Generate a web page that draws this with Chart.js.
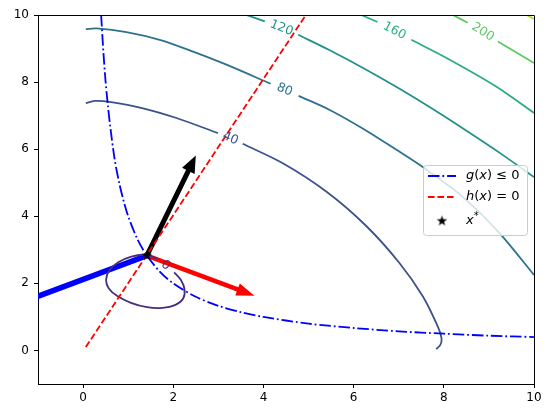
<!DOCTYPE html>
<html>
<head>
<meta charset="utf-8">
<script src="https://cdn.jsdelivr.net/npm/chart.js@4.4.1/dist/chart.umd.min.js"></script>
<style>
    body { margin: 0; background: #fff; }
    #chart { display: block; }
</style>
</head>
<body>
<canvas id="chart" width="552" height="418"></canvas>
<script>
// tick labels
const xTicks = [0, 2, 4, 6, 8, 10];
const yTicks = [0, 2, 4, 6, 8, 10];

// contour lines of f ("a" ends before the label, "b" starts after it)
const contour0 = [[2.02, 2.33], [2.17, 2.10], [2.25, 1.82], [2.22, 1.55], [2.05, 1.36], [1.76, 1.27],
    [1.42, 1.29], [1.06, 1.42], [0.76, 1.62], [0.57, 1.85], [0.51, 2.10], [0.58, 2.38],
    [0.78, 2.63], [1.07, 2.80], [1.38, 2.85], [1.64, 2.74]];
const contour40a = [[0.06, 7.37], [0.26, 7.44], [0.59, 7.41], [1.33, 7.22], [2.07, 6.93], [2.99, 6.48]];
const contour40b = [[3.54, 6.16], [4.43, 5.58], [5.40, 4.73], [6.28, 3.71], [7.02, 2.60], [7.54, 1.60],
    [7.87, 0.70], [7.95, 0.36], [7.92, 0.16], [7.83, 0.04]];
const contour80a = [[0.06, 9.58], [0.30, 9.60], [0.96, 9.49], [1.70, 9.26], [2.44, 8.91], [3.18, 8.52], [4.16, 7.95]];
const contour80b = [[4.78, 7.59], [5.47, 7.17], [6.21, 6.61], [6.95, 5.98], [7.54, 5.46], [8.42, 4.58],
    [9.24, 3.49], [10, 2.25]];
const contour120a = [[3.62, 10], [4.03, 9.81]];
const contour120b = [[4.77, 9.41], [5.47, 8.95], [6.24, 8.40], [7.02, 7.80], [7.80, 7.16], [8.57, 6.49],
    [9.24, 5.89], [10, 5.17]];
const contour160a = [[6.17, 10], [6.53, 9.79]];
const contour160b = [[7.28, 9.26], [8.06, 8.72], [9.16, 7.87], [10, 7.08]];
const contour200a = [[8.20, 10], [8.53, 9.77]];
const contour200b = [[9.20, 9.21], [10, 8.57]];
const contour240 = [[9.84, 10], [10, 9.88]];

// constraint curves
const gCurve = [[0.40, 10], [0.45, 8.9], [0.50, 8.0], [0.55, 7.3], [0.60, 6.7], [0.70, 5.7], [0.80, 5.0],
    [0.90, 4.45], [1.0, 4.0], [1.2, 3.33], [1.4, 2.86], [1.7, 2.35], [2.0, 2.0], [2.5, 1.6], [3.0, 1.33],
    [3.5, 1.14], [4.0, 1.0], [5.0, 0.8], [6.0, 0.67], [7.0, 0.57], [8.0, 0.5], [9.0, 0.44], [10, 0.4]];
const hLine = [[0.06, 0.10], [4.94, 10]];

// optimum and arrow tips
const xStar = [1.414, 2.828];
const gradF = [2.50, 5.81];
const gradH = [3.80, 1.63];
const gradG = [-1.41, 1.41];

const toXY = pts => pts.map(p => ({ x: p[0], y: p[1] }));

function contourSet(pts, color) {
    return {
        data: toXY(pts), showLine: true, borderColor: color, borderWidth: 1.8,
        pointRadius: 0, pointHoverRadius: 0, tension: 0.3, order: 5
    };
}

const c0 = '#472d7b', c40 = '#3b528b', c80 = '#2c728e', c120 = '#21918c',
      c160 = '#28ae80', c200 = '#5ec962', c240 = '#addc30';

const contourLabels = [
    { text: '0', from: contour0[contour0.length - 1], to: contour0[0], color: c0 },
    { text: '40', from: contour40a[contour40a.length - 1], to: contour40b[0], color: c40 },
    { text: '80', from: contour80a[contour80a.length - 1], to: contour80b[0], color: c80 },
    { text: '120', from: contour120a[contour120a.length - 1], to: contour120b[0], color: c120 },
    { text: '160', from: contour160a[contour160a.length - 1], to: contour160b[0], color: c160 },
    { text: '200', from: contour200a[contour200a.length - 1], to: contour200b[0], color: c200 }
];

function makeStar(r) {
    const c = document.createElement('canvas');
    c.width = c.height = Math.ceil(2 * r + 2);
    const g = c.getContext('2d');
    const cx = c.width / 2, cy = c.height / 2;
    g.beginPath();
    for (let i = 0; i < 10; i++) {
        const rr = i % 2 ? r * 0.4 : r;
        const a = -Math.PI / 2 + i * Math.PI / 5;
        g.lineTo(cx + rr * Math.cos(a), cy + rr * Math.sin(a));
    }
    g.closePath();
    g.fillStyle = '#000';
    g.fill();
    return c;
}
const starImg = makeStar(5.5);

const datasets = [
    { data: toXY([xStar]), pointStyle: starImg, pointRadius: 6, order: 1 },
    { data: toXY(hLine), showLine: true, borderColor: 'red', borderWidth: 1.8, borderDash: [6.6, 2.9],
      pointRadius: 0, order: 2 },
    { data: toXY(gCurve), showLine: true, borderColor: 'blue', borderWidth: 1.8, borderDash: [11.5, 2.9, 1.8, 2.9],
      pointRadius: 0, tension: 0.3, order: 3 },
    contourSet(contour0, c0),
    contourSet(contour40a, c40), contourSet(contour40b, c40),
    contourSet(contour80a, c80), contourSet(contour80b, c80),
    contourSet(contour120a, c120), contourSet(contour120b, c120),
    contourSet(contour160a, c160), contourSet(contour160b, c160),
    contourSet(contour200a, c200), contourSet(contour200b, c200),
    contourSet(contour240, c240)
];

function px(chart, p) {
    return [chart.scales.x.getPixelForValue(p[0]), chart.scales.y.getPixelForValue(p[1])];
}

function drawArrow(chart, from, to, shaft, headW, headL, color) {
    const ctx = chart.ctx;
    const p = px(chart, from), q = px(chart, to);
    const dx = q[0] - p[0], dy = q[1] - p[1], len = Math.hypot(dx, dy);
    const ux = dx / len, uy = dy / len, nx = -uy, ny = ux;
    const bx = q[0] - ux * headL, by = q[1] - uy * headL;
    ctx.beginPath();
    ctx.moveTo(p[0] + nx * shaft / 2, p[1] + ny * shaft / 2);
    ctx.lineTo(bx + nx * shaft / 2, by + ny * shaft / 2);
    ctx.lineTo(bx + nx * headW / 2, by + ny * headW / 2);
    ctx.lineTo(q[0], q[1]);
    ctx.lineTo(bx - nx * headW / 2, by - ny * headW / 2);
    ctx.lineTo(bx - nx * shaft / 2, by - ny * shaft / 2);
    ctx.lineTo(p[0] - nx * shaft / 2, p[1] - ny * shaft / 2);
    ctx.closePath();
    ctx.fillStyle = color;
    ctx.fill();
}

function mathText(ctx, parts, x, y) {
    parts.forEach(([t, it, size, dy]) => {
        ctx.font = (it ? 'italic ' : '') + (size || 13) + 'px "DejaVu Sans"';
        ctx.fillText(t, x, y + (dy || 0));
        x += ctx.measureText(t).width;
    });
}

const overlay = {
    id: 'overlay',
    // arrows are patches: drawn under the lines, like in the original
    beforeDatasetsDraw(chart) {
        const ctx = chart.ctx, a = chart.chartArea;
        ctx.save();
        ctx.beginPath();
        ctx.rect(a.left, a.top, a.right - a.left, a.bottom - a.top);
        ctx.clip();
        drawArrow(chart, xStar, gradF, 5, 14, 17, '#000');
        drawArrow(chart, xStar, gradG, 5.5, 14, 18, 'blue');
        drawArrow(chart, xStar, gradH, 4.5, 13, 18, 'red');
        ctx.restore();
    },
    afterDatasetsDraw(chart) {
        const ctx = chart.ctx, a = chart.chartArea;

        // contour labels, rotated along the gap they sit in
        ctx.save();
        ctx.font = '12.5px "DejaVu Sans"';
        ctx.textAlign = 'center';
        ctx.textBaseline = 'middle';
        contourLabels.forEach(l => {
            const p = px(chart, l.from), q = px(chart, l.to);
            let ang = Math.atan2(q[1] - p[1], q[0] - p[0]);
            if (ang > Math.PI / 2) ang -= Math.PI;
            if (ang < -Math.PI / 2) ang += Math.PI;
            ctx.save();
            ctx.translate((p[0] + q[0]) / 2, (p[1] + q[1]) / 2);
            ctx.rotate(ang);
            ctx.fillStyle = l.color;
            ctx.fillText(l.text, 0, 0);
            ctx.restore();
        });
        ctx.restore();

        // top and right spines
        ctx.save();
        ctx.strokeStyle = '#000';
        ctx.lineWidth = 1;
        ctx.beginPath();
        ctx.moveTo(Math.round(a.left) + 0.5, Math.round(a.top) + 0.5);
        ctx.lineTo(Math.round(a.right) + 0.5, Math.round(a.top) + 0.5);
        ctx.lineTo(Math.round(a.right) + 0.5, Math.round(a.bottom) + 0.5);
        ctx.stroke();
        ctx.restore();

        // legend
        ctx.save();
        const lx = 423.5, ly = 165.5, lw = 104, lh = 70;
        ctx.beginPath();
        ctx.roundRect(lx, ly, lw, lh, 3);
        ctx.fillStyle = 'rgba(255,255,255,0.8)';
        ctx.fill();
        ctx.strokeStyle = '#cccccc';
        ctx.lineWidth = 1;
        ctx.stroke();

        ctx.lineWidth = 1.8;
        ctx.strokeStyle = 'blue';
        ctx.setLineDash([11.5, 2.9, 1.8, 2.9]);
        ctx.beginPath(); ctx.moveTo(428, 176); ctx.lineTo(456, 176); ctx.stroke();
        ctx.strokeStyle = 'red';
        ctx.setLineDash([6.6, 2.9]);
        ctx.beginPath(); ctx.moveTo(428, 197); ctx.lineTo(456, 197); ctx.stroke();
        ctx.setLineDash([]);
        ctx.drawImage(starImg, 442 - starImg.width / 2, 221 - starImg.height / 2);

        ctx.fillStyle = '#000';
        ctx.textAlign = 'left';
        ctx.textBaseline = 'middle';
        mathText(ctx, [['g', 1], ['(', 0], ['x', 1], [')', 0], [' \u2264 ', 0], ['0', 0]], 466, 176);
        mathText(ctx, [['h', 1], ['(', 0], ['x', 1], [')', 0], [' = ', 0], ['0', 0]], 466, 197);
        mathText(ctx, [['x', 1], ['*', 0, 10, -5]], 466, 221);
        ctx.restore();
    }
};

const axisCommon = {
    type: 'linear',
    min: -1,
    max: 10,
    grid: { display: true, drawOnChartArea: false, drawTicks: true, tickLength: 4, color: '#000', lineWidth: 1 },
    border: { display: true, color: '#000', width: 1 },
    ticks: { color: '#000', font: { family: 'DejaVu Sans', size: 12 }, maxRotation: 0, autoSkip: false }
};

const config = {
    type: 'scatter',
    data: { datasets: datasets },
    options: {
        responsive: false,
        animation: false,
        layout: { padding: { left: 0, top: 15, right: 18, bottom: 0 } },
        plugins: {
            legend: { display: false },
            tooltip: { enabled: false }
        },
        scales: {
            x: Object.assign({}, axisCommon, {
                ticks: Object.assign({}, axisCommon.ticks, { padding: 3 }),
                afterBuildTicks: s => { s.ticks = xTicks.map(v => ({ value: v })); },
                afterFit: s => { s.height = 34; }
            }),
            y: Object.assign({}, axisCommon, {
                ticks: Object.assign({}, axisCommon.ticks, { padding: 5 }),
                afterBuildTicks: s => { s.ticks = yTicks.map(v => ({ value: v })); },
                afterFit: s => { s.width = 38; }
            })
        }
    },
    plugins: [overlay]
};

const ctx = document.getElementById('chart').getContext('2d');
new Chart(ctx, config);
</script>
</body>
</html>
